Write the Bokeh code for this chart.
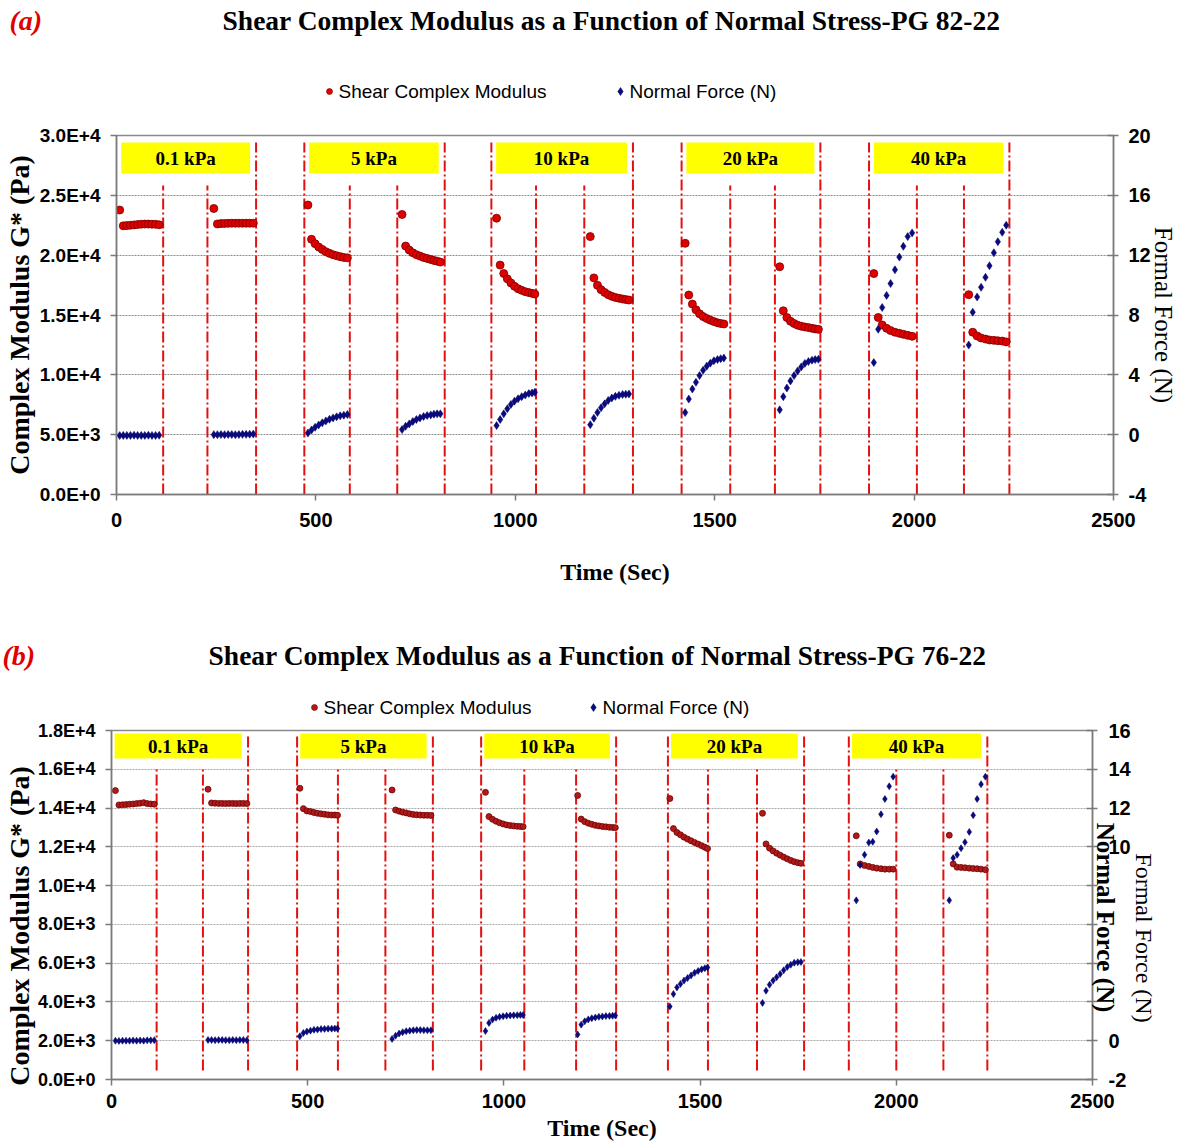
import math
from bokeh.plotting import figure
from bokeh.models import Range1d, LinearAxis, FixedTicker
from bokeh.embed import file_html
from bokeh.resources import INLINE
from bokeh.core.properties import value

# ---------------- shared ----------------
stress_levels = ["0.1 kPa", "5 kPa", "10 kPa", "20 kPa", "40 kPa"]
time_ticks = [0, 500, 1000, 1500, 2000, 2500]
time_labels = ["0", "500", "1000", "1500", "2000", "2500"]
series_names = ["Shear Complex Modulus", "Normal Force (N)"]

# ---------------- (a) PG 82-22 ----------------
a_title = "Shear Complex Modulus as a Function of Normal Stress-PG 82-22"
a_time = [
    8, 17, 26, 35, 44, 53, 62, 71, 80, 89, 98, 107,
    244, 253, 262, 271, 280, 289, 298, 307, 316, 325, 334, 343,
    480, 489, 498, 507, 516, 525, 534, 543, 552, 561, 570, 579,
    716, 725, 734, 743, 752, 761, 770, 779, 788, 796, 804, 812,
    953, 962, 971, 980, 989, 998, 1007, 1016, 1025, 1034, 1042, 1049,
    1188, 1197, 1206, 1215, 1224, 1233, 1242, 1251, 1260, 1269, 1277, 1285,
    1426, 1435, 1444, 1453, 1462, 1471, 1480, 1489, 1498, 1507, 1515, 1523,
    1663, 1672, 1681, 1690, 1699, 1708, 1717, 1726, 1735, 1744, 1752, 1760,
    1899, 1910, 1920, 1931, 1941, 1952, 1963, 1973, 1984, 1995,
    2137, 2147, 2158, 2168, 2179, 2189, 2200, 2210, 2221, 2231,
]
a_modulus = [
    23770, 22450, 22470, 22500, 22530, 22560, 22590, 22600, 22600, 22590, 22580, 22540,
    23900, 22610, 22640, 22650, 22660, 22670, 22670, 22670, 22670, 22670, 22670, 22670,
    24190, 21330, 20960, 20680, 20480, 20290, 20150, 20040, 19950, 19870, 19810, 19780,
    23400, 20760, 20430, 20200, 20040, 19920, 19810, 19730, 19640, 19560, 19500, 19420,
    23090, 19170, 18470, 18020, 17680, 17400, 17200, 17060, 16950, 16870, 16810, 16750,
    21550, 18100, 17480, 17120, 16890, 16700, 16560, 16470, 16400, 16340, 16290, 16250,
    20990, 16670, 15910, 15440, 15100, 14870, 14710, 14570, 14450, 14350, 14290, 14250,
    19030, 15350, 14790, 14480, 14290, 14150, 14060, 14000, 13950, 13890, 13840, 13800,
    18460, 14790, 14170, 13890, 13700, 13560, 13470, 13390, 13300, 13220,
    16700, 13560, 13250, 13080, 12990, 12910, 12880, 12850, 12820, 12750,
]
a_force = [
    -0.06, -0.05, -0.05, -0.05, -0.04, -0.05, -0.05, -0.05, -0.04, -0.05, -0.05, -0.04,
    0.00, 0.00, 0.01, 0.00, 0.01, 0.01, 0.00, 0.01, 0.02, 0.02, 0.03, 0.04,
    0.11, 0.31, 0.49, 0.65, 0.79, 0.92, 1.03, 1.12, 1.19, 1.26, 1.30, 1.35,
    0.34, 0.56, 0.72, 0.88, 1.01, 1.12, 1.21, 1.28, 1.32, 1.37, 1.39, 1.39,
    0.61, 1.01, 1.39, 1.73, 2.02, 2.24, 2.40, 2.54, 2.65, 2.75, 2.79, 2.83,
    0.67, 1.10, 1.48, 1.80, 2.06, 2.29, 2.45, 2.56, 2.63, 2.69, 2.70, 2.72,
    1.48, 2.38, 3.05, 3.50, 3.95, 4.31, 4.58, 4.78, 4.94, 5.02, 5.08, 5.12,
    1.66, 2.54, 3.12, 3.59, 3.95, 4.26, 4.53, 4.76, 4.89, 4.98, 5.02, 5.04,
    4.82, 7.05, 8.50, 9.31, 10.10, 11.02, 11.87, 12.59, 13.24, 13.49,
    5.99, 8.19, 9.20, 9.85, 10.52, 11.29, 12.16, 12.90, 13.53, 14.00,
]
# test start / end markers (s)
a_phase_lines = [117, 228, 350, 471, 585, 704, 823, 940, 1052, 1173,
                 1295, 1417, 1539, 1651, 1765, 1887, 2007, 2125, 2239]
a_modulus_ticks = [0, 5000, 10000, 15000, 20000, 25000, 30000]
a_modulus_labels = ["0.0E+0", "5.0E+3", "1.0E+4", "1.5E+4", "2.0E+4", "2.5E+4", "3.0E+4"]
a_force_ticks = [-4, 0, 4, 8, 12, 16, 20]
a_force_labels = ["-4", "0", "4", "8", "12", "16", "20"]

# ---------------- (b) PG 76-22 ----------------
b_title = "Shear Complex Modulus as a Function of Normal Stress-PG 76-22"
b_time = [
    10, 19, 28, 37, 46, 55, 64, 73, 82, 91, 100, 109,
    246, 255, 264, 273, 282, 291, 300, 309, 318, 327, 336, 345,
    480, 489, 498, 507, 516, 525, 534, 543, 552, 561, 569, 576,
    715, 724, 733, 742, 751, 760, 769, 778, 787, 796, 805, 814,
    953, 962, 971, 980, 989, 998, 1007, 1016, 1025, 1034, 1042, 1049,
    1188, 1197, 1206, 1215, 1224, 1233, 1242, 1251, 1260, 1269, 1277, 1284,
    1423, 1432, 1441, 1450, 1459, 1468, 1477, 1486, 1495, 1504, 1512, 1519,
    1659, 1668, 1677, 1686, 1695, 1704, 1713, 1722, 1731, 1740, 1749, 1757,
    1898, 1908, 1919, 1930, 1940, 1950, 1961, 1971, 1982, 1992,
    2135, 2145, 2155, 2165, 2175, 2186, 2196, 2206, 2216, 2227,
]
b_modulus = [
    14900, 14160, 14170, 14180, 14200, 14210, 14230, 14250, 14280, 14230, 14210, 14200,
    14970, 14260, 14250, 14240, 14240, 14230, 14240, 14240, 14230, 14240, 14240, 14230,
    15020, 13970, 13850, 13820, 13770, 13730, 13700, 13680, 13650, 13640, 13640, 13630,
    14930, 13900, 13840, 13790, 13750, 13700, 13670, 13650, 13640, 13630, 13630, 13620,
    14810, 13560, 13420, 13320, 13240, 13180, 13130, 13100, 13080, 13060, 13050, 13040,
    14650, 13430, 13300, 13220, 13160, 13110, 13080, 13050, 13030, 13010, 13000, 12990,
    14490, 12940, 12740, 12620, 12500, 12400, 12310, 12220, 12140, 12060, 11980, 11910,
    13730, 12150, 11930, 11790, 11670, 11570, 11470, 11380, 11300, 11230, 11180, 11150,
    12570, 11120, 11040, 10990, 10940, 10900, 10870, 10850, 10850, 10850,
    12600, 11120, 10950, 10940, 10920, 10900, 10880, 10870, 10850, 10820,
]
b_force = [
    0.00, -0.01, 0.00, 0.00, 0.00, 0.01, 0.00, 0.01, 0.00, 0.02, 0.02, 0.03,
    0.04, 0.04, 0.03, 0.04, 0.04, 0.03, 0.03, 0.04, 0.03, 0.04, 0.04, 0.03,
    0.23, 0.40, 0.47, 0.52, 0.56, 0.58, 0.60, 0.61, 0.62, 0.62, 0.63, 0.63,
    0.09, 0.26, 0.37, 0.44, 0.49, 0.52, 0.54, 0.55, 0.55, 0.54, 0.54, 0.54,
    0.50, 0.92, 1.09, 1.18, 1.23, 1.26, 1.29, 1.30, 1.31, 1.32, 1.33, 1.33,
    0.32, 0.83, 1.00, 1.10, 1.16, 1.20, 1.23, 1.25, 1.27, 1.28, 1.29, 1.30,
    1.77, 2.41, 2.75, 2.93, 3.10, 3.23, 3.37, 3.50, 3.60, 3.68, 3.74, 3.78,
    1.95, 2.58, 2.89, 3.10, 3.27, 3.44, 3.63, 3.80, 3.92, 4.02, 4.05, 4.06,
    7.24, 9.06, 9.59, 10.22, 10.26, 10.79, 11.68, 12.47, 13.12, 13.62,
    7.24, 9.42, 9.59, 9.93, 10.24, 10.77, 11.63, 12.47, 13.23, 13.62,
]
b_phase_lines = [115, 233, 348, 473, 577, 698, 819, 942, 1052, 1184,
                 1286, 1418, 1520, 1645, 1765, 1879, 2000, 2120, 2232]
b_modulus_ticks = [0, 2000, 4000, 6000, 8000, 10000, 12000, 14000, 16000, 18000]
b_modulus_labels = ["0.0E+0", "2.0E+3", "4.0E+3", "6.0E+3", "8.0E+3",
                    "1.0E+4", "1.2E+4", "1.4E+4", "1.6E+4", "1.8E+4"]
b_force_ticks = [-2, 0, 2, 4, 6, 8, 10, 12, 14, 16]
b_force_labels = ["-2", "0", "2", "4", "6", "8", "10", "12", "14", "16"]

SERIF = "Liberation Serif"
SANS = "Liberation Sans"
W = 1179
NBSP = "\u00a0"


def header(tag, title, h):
    """Title line and legend strip that sit above a chart (pixel coordinates)."""
    p = figure(width=W, height=h["H"], output_backend="svg", toolbar_location=None,
               x_range=Range1d(0, W), y_range=Range1d(h["H"], 0),
               x_axis_type=None, y_axis_type=None, min_border=0, title=None)
    p.grid.visible = False
    p.outline_line_color = None
    p.background_fill_color = "white"
    p.border_fill_color = "white"
    p.text(x=[h["tag_x"]], y=[h["line_y"]], text=[tag], text_font=value(SERIF),
           text_font_style="bold italic", text_font_size="28px", text_color="#E00000",
           text_align="left", text_baseline="middle")
    p.text(x=[h["title_x"]], y=[h["line_y"]], text=[title], text_font=value(SERIF),
           text_font_style="bold", text_font_size="27.5px", text_color="black",
           text_align="center", text_baseline="middle")
    # legend
    ly = h["leg_y"]
    p.scatter(x=[h["leg1_x"]], y=[ly], marker="circle", size=h["red_size"],
              fill_color=h["red_fill"], line_color=h["red_line"], line_width=0.6)
    p.scatter(x=[h["leg2_x"]], y=[ly], marker="diamond", size=8,
              fill_color="#0A0A80", line_color="#000060", line_width=0.5)
    p.text(x=[h["leg1_x"] + 9, h["leg2_x"] + 9], y=[ly, ly], text=series_names,
           text_font=value(SANS), text_font_size="19px", text_color="black",
           text_align="left", text_baseline="middle")
    return p


def build(time, modulus, force, lines, m_ticks, m_labels, f_ticks, f_labels, g):
    L, R, T, B, H = g["L"], g["R"], g["T"], g["B"], g["H"]
    p = figure(width=W, height=H, output_backend="svg", toolbar_location=None,
               x_range=Range1d(0, 2500), y_range=Range1d(m_ticks[0], m_ticks[-1]),
               min_border_left=L, min_border_right=W - R, min_border_top=T,
               min_border_bottom=H - B, title=None)
    p.extra_y_ranges = {"force": Range1d(f_ticks[0], f_ticks[-1])}
    p.background_fill_color = "white"
    p.border_fill_color = "white"
    p.outline_line_color = "#8a8a8a"
    p.outline_line_width = 1.5

    y0, y1 = m_ticks[0], m_ticks[-1]

    def yd(py):
        return y0 + (B - py) / (B - T) * (y1 - y0)

    # grid
    p.xgrid.visible = False
    p.ygrid.ticker = FixedTicker(ticks=m_ticks)
    p.ygrid.grid_line_color = g["grid_color"]
    p.ygrid.grid_line_dash = "2 1"
    p.ygrid.grid_line_width = 1

    # axes
    ax = p.xaxis[0]
    ax.ticker = FixedTicker(ticks=time_ticks)
    ax.major_label_overrides = dict(zip(time_ticks, time_labels))
    ax.axis_label = "Time (Sec)"
    ay = p.yaxis[0]
    ay.ticker = FixedTicker(ticks=m_ticks)
    ay.major_label_overrides = dict(zip(m_ticks, m_labels))
    # trailing no-break spaces nudge the centred title down the axis
    ay.axis_label = "Complex Modulus G* (Pa)" + NBSP * g["ylab_pad"]
    ar = LinearAxis(y_range_name="force", ticker=FixedTicker(ticks=f_ticks))
    shown = [lab if lab not in g["hidden_f"] else "" for lab in f_labels]
    ar.major_label_overrides = dict(zip(f_ticks, shown))
    p.add_layout(ar, "right")
    for a in (ax, ay, ar):
        a.axis_line_color = "#7a7a7a"
        a.axis_line_width = 1.5
        a.major_tick_line_color = "#7a7a7a"
        a.major_tick_line_width = 1.5
        a.minor_tick_line_color = None
        a.major_label_text_font = SANS
        a.major_label_text_font_style = "bold"
        a.major_label_text_color = "black"
        a.axis_label_text_font = SERIF
        a.axis_label_text_font_style = "bold"
        a.axis_label_text_color = "black"
    ax.major_tick_in, ax.major_tick_out = 0, 6
    ay.major_tick_in, ay.major_tick_out = 0, 6
    ar.major_tick_in, ar.major_tick_out = 6, 5
    ax.major_label_text_font_size = "20px"
    ay.major_label_text_font_size = g["ytick_size"]
    ar.major_label_text_font_size = "20px"
    ax.major_label_standoff = g["x_standoff"]
    ay.major_label_standoff = 10
    ar.major_label_standoff = g["r_standoff"]
    ax.axis_label_text_font_size = "24px"
    ax.axis_label_standoff = g["xlab_standoff"]
    ay.axis_label_text_font_size = "28px"
    ay.axis_label_standoff = g["ylab_standoff"]

    if g.get("overlay_standoff") is None:
        ar.axis_label = "Formal Force (N)"
        ar.axis_label_text_font_style = "normal"
        ar.axis_label_text_font_size = "25px"
        ar.axis_label_standoff = g["rlab_standoff"]
    else:
        # pasted bold label lying over the tick labels, plus the outer axis title
        ar.axis_label = NBSP * 4 + series_names[1]
        ar.axis_label_text_font_size = "25px"
        ar.axis_label_standoff = g["overlay_standoff"]
        ar2 = LinearAxis(y_range_name="force", ticker=FixedTicker(ticks=[]),
                         axis_label=NBSP * 11 + "Formal Force (N)", axis_label_text_font=SERIF,
                         axis_label_text_font_style="normal",
                         axis_label_text_font_size="24px", axis_label_text_color="black",
                         axis_label_standoff=g["rlab_standoff"], axis_line_color=None,
                         major_tick_out=0, major_tick_in=0, major_tick_line_color=None,
                         minor_tick_line_color=None)
        p.add_layout(ar2, "right")

    # phase boundary lines (tall at the edges of each stress group)
    tall = {2, 3, 6, 7, 10, 11, 14, 15, 18}
    tops = [yd(g["tall_top"]) if i in tall else yd(g["short_top"]) for i in range(len(lines))]
    p.segment(x0=lines, x1=lines, y0=[yd(g["line_bottom"])] * len(lines), y1=tops,
              line_color="#E41010", line_width=2, line_dash="11 3 2 3")

    # stress level boxes
    starts = [0] + [lines[i] for i in (3, 7, 11, 15)]
    ends = [lines[i] for i in (2, 6, 10, 14, 18)]
    lefts = [s + g["box_ml"] for s in starts]
    rights = [e - g["box_mr"] for e in ends]
    p.quad(left=lefts, right=rights, bottom=yd(g["box_bot"]), top=yd(g["box_top"]),
           fill_color="#FFFF00", line_color=None)
    p.text(x=[(a + b) / 2 for a, b in zip(lefts, rights)],
           y=[yd((g["box_bot"] + g["box_top"]) / 2)] * 5, text=stress_levels,
           text_font=value(SERIF), text_font_style="bold", text_font_size="19px",
           text_align="center", text_baseline="middle", text_color="black")

    # data
    p.scatter(time, modulus, marker="circle", size=g["red_size"],
              fill_color=g["red_fill"], line_color=g["red_line"], line_width=0.8)
    p.scatter(time, force, marker="diamond", size=g["blue_size"], y_range_name="force",
              fill_color="#0A0A80", line_color="#000060", line_width=0.5)
    return p


# page rows: header a 0-120, chart a 120-615, header b 615-719, chart b 719-1147
head_a = dict(H=120, tag_x=9, title_x=611, line_y=20, leg_y=91, leg1_x=329, leg2_x=620,
              red_size=6, red_fill="#E00000", red_line="#7a0000")
head_b = dict(H=104, tag_x=2, title_x=597, line_y=40, leg_y=92, leg1_x=314, leg2_x=593,
              red_size=6, red_fill="#B01A1A", red_line="#700000")
geo_a = dict(H=495, L=116, R=1113, T=15, B=374, grid_color="#8c8c8c", ytick_size="19px",
             x_standoff=12, r_standoff=10, xlab_standoff=29, ylab_standoff=2, ylab_pad=0,
             rlab_standoff=-4,
             tall_top=22, short_top=65, line_bottom=374,
             box_ml=12, box_mr=15, box_bot=53, box_top=22,
             red_size=8, red_fill="#E00000", red_line="#7a0000", blue_size=8, hidden_f=[])
geo_b = dict(H=428, L=111, R=1092, T=11, B=360, grid_color="#a8a8a8", ytick_size="18px",
             x_standoff=8, r_standoff=11, xlab_standoff=4, ylab_standoff=0, ylab_pad=6,
             rlab_standoff=9, overlay_standoff=-42,
             tall_top=16, short_top=50, line_bottom=351,
             box_ml=8, box_mr=16, box_bot=39, box_top=14,
             red_size=6, red_fill="#B01A1A", red_line="#700000", blue_size=7,
             hidden_f=["2", "4", "6", "8"])

h1 = header("(a)", a_title, head_a)
p1 = build(a_time, a_modulus, a_force, a_phase_lines,
           a_modulus_ticks, a_modulus_labels, a_force_ticks, a_force_labels, geo_a)
h2 = header("(b)", b_title, head_b)
p2 = build(b_time, b_modulus, b_force, b_phase_lines,
           b_modulus_ticks, b_modulus_labels, b_force_ticks, b_force_labels, geo_b)

# separate roots stacked down the page, so each chart keeps its own frame borders
open("out.html", "w").write(file_html([h1, p1, h2, p2], INLINE))
